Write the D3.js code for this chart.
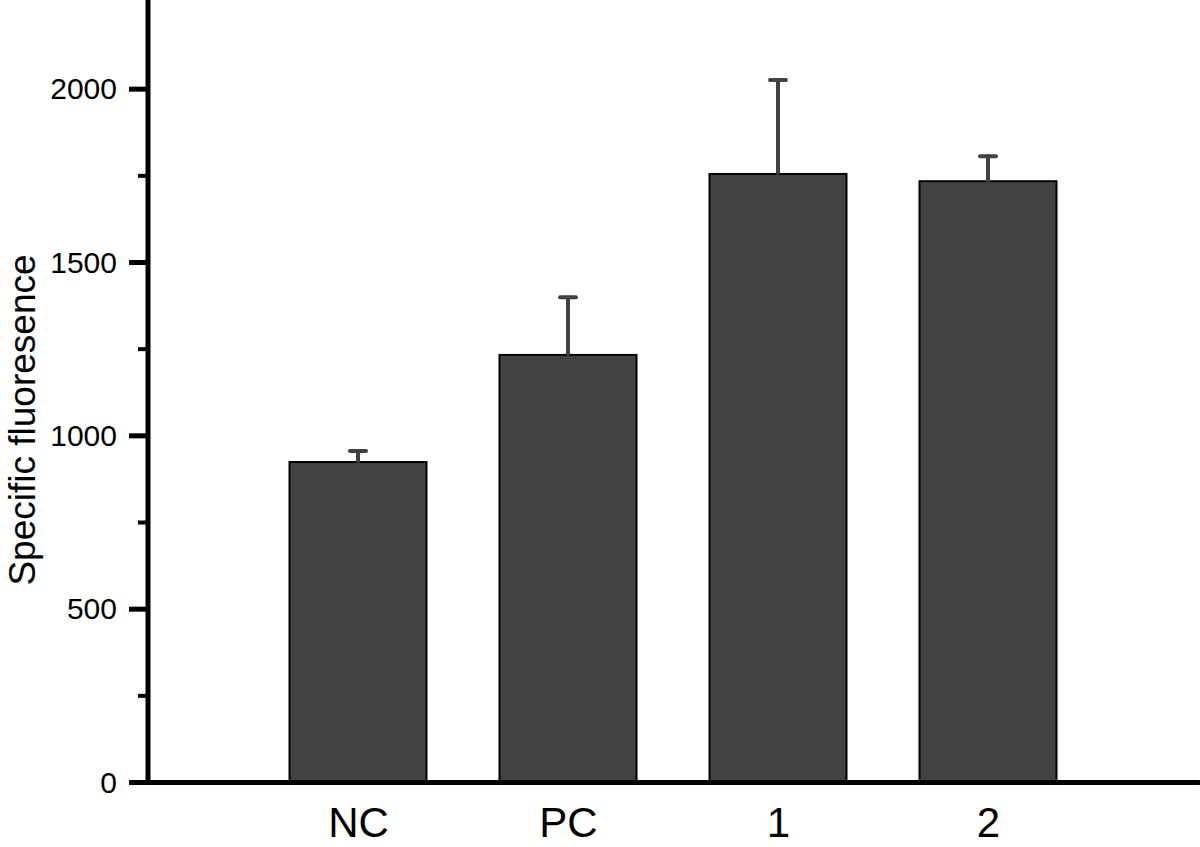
<!DOCTYPE html>
<html>
<head>
<meta charset="utf-8">
<script src="https://cdn.jsdelivr.net/npm/d3@7"></script>
<style>
  body { margin: 0; background: #fff; }
  svg { display: block; font-family: Arial, "Liberation Sans", sans-serif; }
</style>
</head>
<body>
<div id="chart"></div>
<script>
// data
var categories = ["NC", "PC", "1", "2"];
var means = [923, 1232, 1754, 1733];
var errors = [32, 166, 271, 72];
var majorTicks = [0, 500, 1000, 1500, 2000];
var minorTicks = [250, 750, 1250, 1750];

var width = 1200;
var height = 847;

var svg = d3.select("#chart")
  .append("svg")
  .attr("width", width)
  .attr("height", height);

// category i sits at position i+1 on a 0..5 axis
var x = d3.scaleLinear().domain([0, 5]).range([148, 1198]);
var y = d3.scaleLinear().domain([0, 2250]).range([782, 2]);
var barWidth = 137;

// bars
svg.append("g")
  .selectAll("rect")
  .data(categories)
  .enter().append("rect")
  .attr("x", function(d, i) { return x(i + 1) - barWidth / 2; })
  .attr("y", function(d, i) { return y(means[i]); })
  .attr("width", barWidth)
  .attr("height", function(d, i) { return y(0) - y(means[i]); })
  .attr("fill", "#424242")
  .attr("stroke", "#000")
  .attr("stroke-width", 2);

// error bars (upper only)
var err = svg.append("g")
  .attr("stroke", "#424242")
  .attr("stroke-width", 4)
  .attr("stroke-linecap", "round");

err.selectAll(".stem")
  .data(categories)
  .enter().append("line")
  .attr("class", "stem")
  .attr("x1", function(d, i) { return x(i + 1); })
  .attr("x2", function(d, i) { return x(i + 1); })
  .attr("y1", function(d, i) { return y(means[i]) - 1; })
  .attr("y2", function(d, i) { return y(means[i] + errors[i]); });

err.selectAll(".cap")
  .data(categories)
  .enter().append("line")
  .attr("class", "cap")
  .attr("x1", function(d, i) { return x(i + 1) - 8; })
  .attr("x2", function(d, i) { return x(i + 1) + 8; })
  .attr("y1", function(d, i) { return y(means[i] + errors[i]); })
  .attr("y2", function(d, i) { return y(means[i] + errors[i]); });

// minor y ticks
var minorAxis = svg.append("g")
  .attr("transform", "translate(" + x(0) + ",0)")
  .call(d3.axisLeft(y).tickValues(minorTicks).tickSize(10).tickFormat(""));
minorAxis.select(".domain").remove();
minorAxis.selectAll("line").attr("stroke", "#000").attr("stroke-width", 4);

// y axis
var yAxis = svg.append("g")
  .attr("transform", "translate(" + x(0) + ",0)")
  .call(d3.axisLeft(y)
    .tickValues(majorTicks)
    .tickFormat(d3.format("d"))
    .tickSize(19)
    .tickSizeOuter(0)
    .tickPadding(12));
yAxis.select(".domain")
  .attr("stroke-width", 5)
  .attr("stroke-linecap", "round")
  .attr("d", "M0," + y(0) + "V0");
yAxis.selectAll(".tick line").attr("stroke", "#000").attr("stroke-width", 5);
yAxis.selectAll(".tick text")
  .attr("font-family", "Arial, 'Liberation Sans', sans-serif")
  .attr("font-size", 30)
  .attr("fill", "#000")
  .attr("dy", "0.34em");

// x axis
var xAxis = svg.append("g")
  .attr("transform", "translate(0," + y(0) + ")")
  .call(d3.axisBottom(x)
    .tickValues([1, 2, 3, 4])
    .tickSize(0)
    .tickSizeOuter(0)
    .tickPadding(0)
    .tickFormat(function(d) { return categories[d - 1]; }));
xAxis.select(".domain")
  .attr("stroke-width", 5)
  .attr("stroke-linecap", "round");
xAxis.selectAll(".tick text")
  .attr("font-family", "Arial, 'Liberation Sans', sans-serif")
  .attr("font-size", 42)
  .attr("fill", "#000")
  .attr("dy", null)
  .attr("y", 55);

// y axis title
svg.append("text")
  .attr("transform", "translate(35," + 420 + ") rotate(-90)")
  .attr("text-anchor", "middle")
  .attr("font-size", 37)
  .attr("fill", "#000")
  .text("Specific fluoresence");
</script>
</body>
</html>
